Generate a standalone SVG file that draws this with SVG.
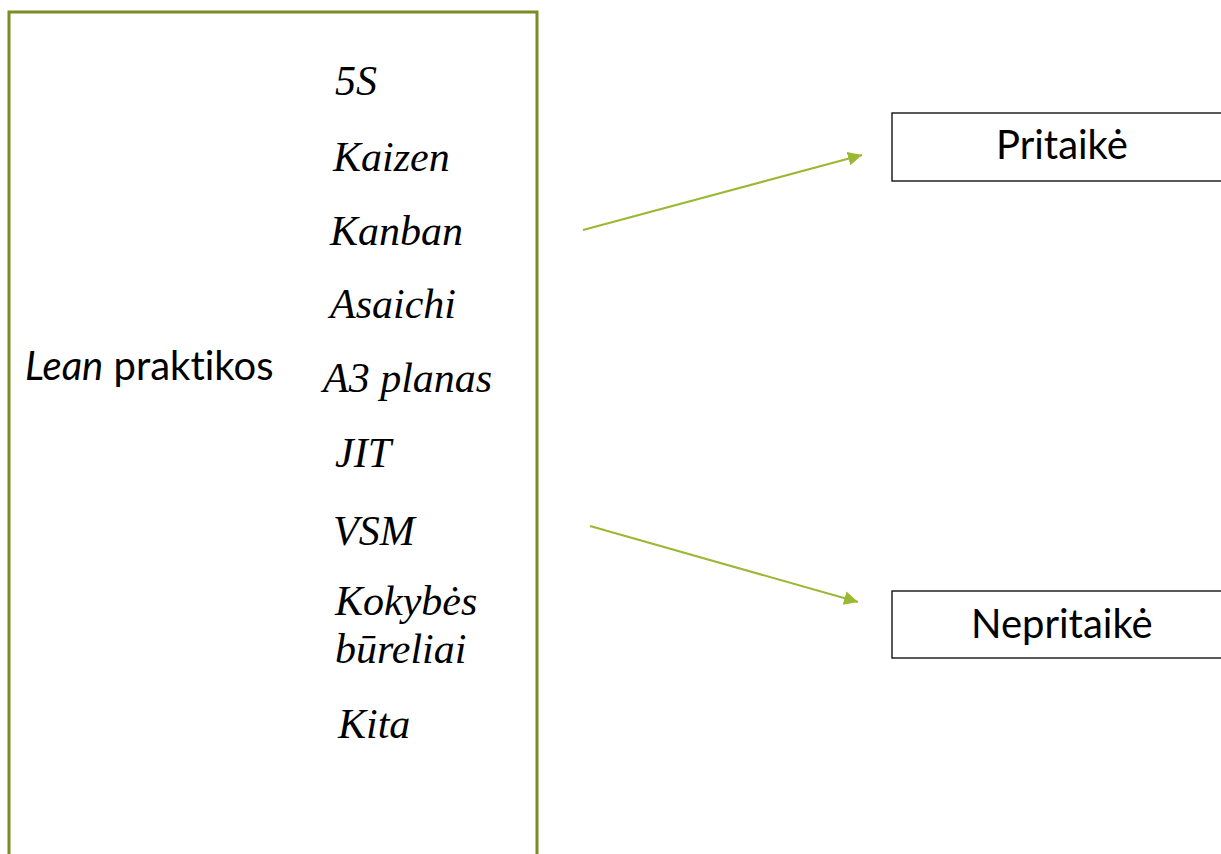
<svg xmlns="http://www.w3.org/2000/svg" width="1221" height="854" viewBox="0 0 1221 854">
  <style>
    .frame { fill: #ffffff; stroke: #7a8c26; stroke-width: 3; }
    .box { fill: #ffffff; stroke: #000000; stroke-width: 1.3; }
    .item { font-family: "Liberation Serif", serif; font-style: italic; font-size: 42px; fill: #000000; }
    .label { font-family: Lato, "Open Sans", sans-serif; font-size: 40px; fill: #000000; font-variant-ligatures: none; }
    .link { stroke: #9ab832; stroke-width: 2; fill: none; marker-end: url(#head); }
  </style>
  <defs>
    <marker id="head" viewBox="0 0 10 10" refX="10" refY="5" markerWidth="7" markerHeight="7" markerUnits="strokeWidth" orient="auto">
      <path d="M0,0 L10,5 L0,10 z" fill="#9ab832"/>
    </marker>
  </defs>

  <!-- large frame holding the list of practices -->
  <g id="practices">
    <rect class="frame" x="9" y="12" width="528" height="860"/>
    <text class="label" x="25" y="380"><tspan font-style="italic">Lean</tspan> praktikos</text>
    <text class="item" x="335" y="95">5S</text>
    <text class="item" x="333" y="171">Kaizen</text>
    <text class="item" x="330" y="245">Kanban</text>
    <text class="item" x="330" y="318">Asaichi</text>
    <text class="item" x="323" y="392">A3 planas</text>
    <text class="item" x="335" y="467">JIT</text>
    <text class="item" x="333" y="545">VSM</text>
    <text class="item" x="335" y="615">Kokybės</text>
    <text class="item" x="335" y="663">būreliai</text>
    <text class="item" x="338" y="738">Kita</text>
  </g>

  <g id="applied">
    <rect class="box" x="892" y="113" width="340" height="68"/>
    <text class="label" x="996" y="159">Pritaikė</text>
  </g>

  <g id="not-applied">
    <rect class="box" x="892" y="591" width="340" height="67"/>
    <text class="label" x="971" y="638">Nepritaikė</text>
  </g>

  <g id="connectors">
    <line class="link" x1="583" y1="230" x2="862" y2="155"/>
    <line class="link" x1="590" y1="526" x2="858" y2="602"/>
  </g>
</svg>
